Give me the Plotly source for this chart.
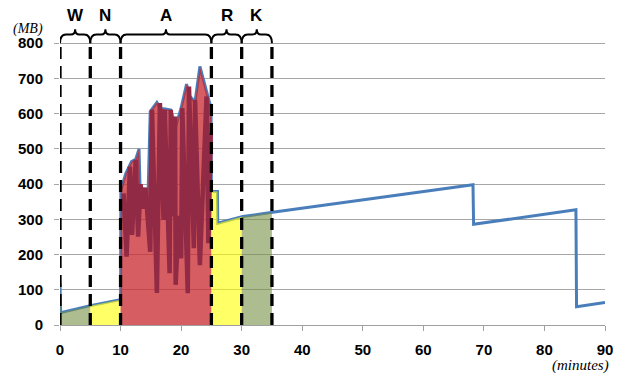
import numpy as np
import plotly.graph_objects as go

# Memory usage over time (blue line)
t_mem = [0, 0.1, 5, 10.0, 10.05, 10.85, 11.8, 12.5, 13.05, 13.3, 13.9, 14.2, 14.5, 14.9,
         16.0, 16.6, 17.4, 18.3, 19.1, 20.0, 20.9, 21.4, 22.3, 23.1, 24.7, 24.95, 25.0,
         26.0, 26.05, 30.2, 35.1, 68.2, 68.3, 85.2, 85.3, 90]
v_mem = [120, 35, 55, 72, 383, 429, 464, 470, 500, 336, 380, 383, 345, 606,
         632, 615, 613, 610, 563, 616, 684, 650, 634, 734, 631, 620, 380,
         379, 289, 308, 320, 398, 286, 327, 52, 64]

# Fluctuating usage during the A phase (dark red line)
t_act = [10.5, 11.0, 11.55, 11.9, 12.5, 12.9, 13.3, 13.7, 14.1, 14.5, 14.9, 15.2, 16.0,
         16.5, 17.1, 17.3, 18.1, 18.3, 18.6, 19.0, 19.1, 19.6, 20.0, 20.2, 21.1, 21.3,
         22.1, 22.3, 23.1, 24.2, 24.5, 24.9]
v_act = [374, 194, 450, 256, 469, 251, 400, 330, 390, 300, 208, 611, 91,
         630, 298, 611, 147, 611, 308, 592, 114, 310, 189, 616, 90, 677,
         218, 639, 170, 649, 232, 545]

phase_edges = [0, 5, 10, 25, 30, 35]
phase_labels = ["W", "N", "A", "R", "K"]
phase_colors = ["rgba(120,145,70,0.6)", "rgba(255,255,0,0.6)", "rgba(200,40,45,0.75)",
                "rgba(255,255,0,0.6)", "rgba(120,145,70,0.6)"]

x_ticks = list(range(0, 91, 10))
y_ticks = list(range(0, 801, 100))

fig = go.Figure()

fig.add_trace(go.Scatter(x=t_mem, y=v_mem, mode="lines",
                         line=dict(color="#4a7ebb", width=3), hoverinfo="skip"))

for i, lab in enumerate(phase_labels):
    a, b = phase_edges[i], phase_edges[i + 1]
    xs = [a] + [t for t in t_mem if a < t < b] + [b]
    ys = np.interp(xs, t_mem, v_mem)
    fig.add_trace(go.Scatter(x=xs, y=ys, mode="lines", fill="tozeroy",
                             fillcolor=phase_colors[i], line=dict(width=0),
                             hoverinfo="skip"))

fig.add_trace(go.Scatter(x=t_act, y=v_act, mode="lines",
                         line=dict(color="#912a45", width=4.5), hoverinfo="skip"))

shapes = []
for e in phase_edges:
    shapes.append(dict(type="line", xref="x", yref="y", x0=e, x1=e, y0=0, y1=800,
                       line=dict(color="black", width=3.3, dash="12px,7px"), layer="above"))

y0, y1, y2 = 800, 825, 840
r, r2 = 1.0, 0.7
for i, lab in enumerate(phase_labels):
    a, b = phase_edges[i], phase_edges[i + 1]
    m = (a + b) / 2
    path = (f"M {a},{y0} Q {a},{y1} {a + r},{y1} L {m - r2},{y1} Q {m},{y1} {m},{y2} "
            f"Q {m},{y1} {m + r2},{y1} L {b - r},{y1} Q {b},{y1} {b},{y0}")
    shapes.append(dict(type="path", xref="x", yref="y", path=path,
                       line=dict(color="black", width=2)))

W, H = 621, 376
ml, mr, mt, mb = 60, 10, 8, 51
pw, ph = W - ml - mr, H - mt - mb

annotations = []
for i, lab in enumerate(phase_labels):
    m = (phase_edges[i] + phase_edges[i + 1]) / 2
    annotations.append(dict(x=m, y=878, xref="x", yref="y", text=lab, showarrow=False,
                            font=dict(family="Liberation Sans, Arial", size=17,
                                      color="black", weight="bold")))
# unit labels placed by pixel position, converted to paper fractions
annotations.append(dict(x=(28 - ml) / pw, y=((H - 29) - mb) / ph, xref="paper", yref="paper",
                        text="(MB)", showarrow=False, xanchor="center", yanchor="middle",
                        font=dict(family="Liberation Serif, Times New Roman", size=14,
                                  color="black", style="italic")))
annotations.append(dict(x=(586 - ml) / pw, y=((H - 365) - mb) / ph, xref="paper", yref="paper",
                        text="(minutes)", showarrow=False, xanchor="center", yanchor="middle",
                        font=dict(family="Liberation Serif, Times New Roman", size=15,
                                  color="black", style="italic")))

tickfont = dict(family="Liberation Sans, Arial", size=15, color="black", weight="bold")

fig.update_layout(
    width=W, height=H,
    margin=dict(l=ml, r=mr, t=mt, b=mb),
    paper_bgcolor="white", plot_bgcolor="white",
    showlegend=False,
    shapes=shapes,
    annotations=annotations,
    xaxis=dict(range=[0, 90], tickvals=x_ticks, showgrid=False, zeroline=False,
               showline=True, linecolor="#a0a0a0", linewidth=1,
               ticks="outside", ticklen=5, tickcolor="#a0a0a0",
               tickfont=tickfont, ticklabelstandoff=6, ticklabeloverflow="allow"),
    yaxis=dict(range=[0, 900], tickvals=y_ticks, showgrid=True, gridcolor="#a6a6a6",
               gridwidth=1.3, zeroline=False, showline=False,
               ticks="outside", ticklen=5, tickcolor="#a6a6a6",
               tickfont=tickfont, ticklabelstandoff=8),
)

fig.write_html("out.html", config={"displayModeBar": False},
               post_script="document.body.style.margin='0px';")
